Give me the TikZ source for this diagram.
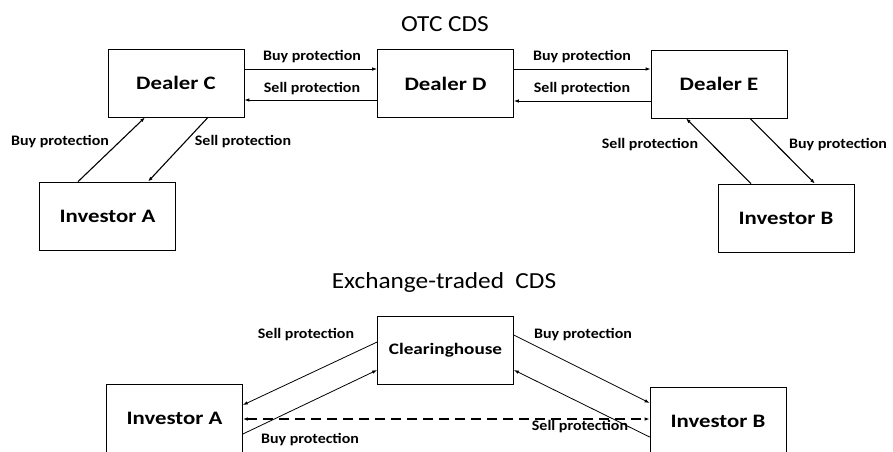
\documentclass[tikz,border=0pt]{standalone}
\usepackage{fontspec}
\setmainfont{Carlito}
\newfontfamily\boxfont[FakeStretch=1.2]{Carlito}
\newfontfamily\ttlfont[FakeStretch=1.1]{Carlito}
\usetikzlibrary{arrows.meta}
\begin{document}
\begin{tikzpicture}[x=1pt, y=-1pt,
    party/.style={draw, line width=0.7pt, minimum width=136pt, minimum height=68pt, inner sep=0pt, font=\boxfont\fontsize{19}{21}\selectfont\bfseries},
    lbl/.style={inner sep=1pt, font=\ttlfont\fontsize{14.5}{16}\selectfont\bfseries},
    ttl/.style={inner sep=0pt, font=\ttlfont\fontsize{23}{26}\selectfont},
    flow/.style={-{Latex[length=5pt,width=3.5pt]}, line width=0.8pt},
    scale=1]
    \useasboundingbox[clip] (0,0) rectangle (893,451);

    \node[ttl] (otc) at (445,24) {OTC CDS};
    \node[party] (dc) at (176,83) {Dealer C};
    \node[party] (dd) at (445.5,83.5) {Dealer D};
    \node[party] (de) at (719,84) {Dealer E};
    \node[party] (ia) at (107.5,216) {Investor A};
    \node[party] (ib) at (786,218) {Investor B};

    \draw[flow] ([yshift=14]dc.east) -- ([yshift=14.5]dd.west);
    \draw[flow] ([yshift=-16.5]dd.west) -- ([yshift=-17]dc.east);
    \draw[flow] ([yshift=14.5]dd.east) -- ([yshift=15]de.west);
    \draw[flow] ([yshift=-17]de.west) -- ([yshift=-17.5]dd.east);
    \draw[flow, line width=1.1pt] ([xshift=-29.5]ia.north) -- ([xshift=-31]dc.south);
    \draw[flow, line width=1.1pt] ([xshift=32]dc.south) -- ([xshift=40.5]ia.north);
    \draw[flow, line width=1.1pt] ([xshift=-35]ib.north) -- ([xshift=-33]de.south);
    \draw[flow, line width=1.1pt] ([xshift=31]de.south) -- ([xshift=29]ib.north);

    \node[lbl] (cdbuy) at (312,57) {Buy protection};
    \node[lbl] (cdsell) at (312,89) {Sell protection};
    \node[lbl] (debuy) at (582,57) {Buy protection};
    \node[lbl] (desell) at (582,89) {Sell protection};
    \node[lbl] (iabuy) at (60,142) {Buy protection};
    \node[lbl] (iasell) at (243,142) {Sell protection};
    \node[lbl] (ibsell) at (650,145) {Sell protection};
    \node[lbl] (ibbuy) at (838,145) {Buy protection};

    \node[ttl] (exch) at (444,282) {Exchange-traded\ \ CDS};
    \node[party] (ch) at (445.5,350.5) {\fontsize{16}{18}\selectfont Clearinghouse};
    \node[party] (xa) at (174.5,418) {Investor A};
    \node[party] (xb) at (718,421) {Investor B};

    \draw[flow] ([yshift=8.5]ch.west) -- ([yshift=13]xa.east);
    \draw[flow] ([yshift=-16]xa.east) -- ([yshift=-19.5]ch.west);
    \draw[flow] ([yshift=15.5]ch.east) -- ([yshift=18]xb.west);
    \draw[flow] ([yshift=-16]xb.west) -- ([yshift=-19.5]ch.east);
    \draw[{Latex[length=5pt,width=3.5pt]}-{Latex[length=5pt,width=3.5pt]}, line width=1.4pt, dash pattern=on 10pt off 6pt] ([yshift=-1]xa.east) -- ([yshift=2]xb.west);

    \node[lbl] (chsell) at (306,335) {Sell protection};
    \node[lbl] (chbuy) at (310,440) {Buy protection};
    \node[lbl] (chbuyb) at (583,335) {Buy protection};
    \node[lbl] (chsellb) at (580,427) {Sell protection};
  \end{tikzpicture}
\end{document}
